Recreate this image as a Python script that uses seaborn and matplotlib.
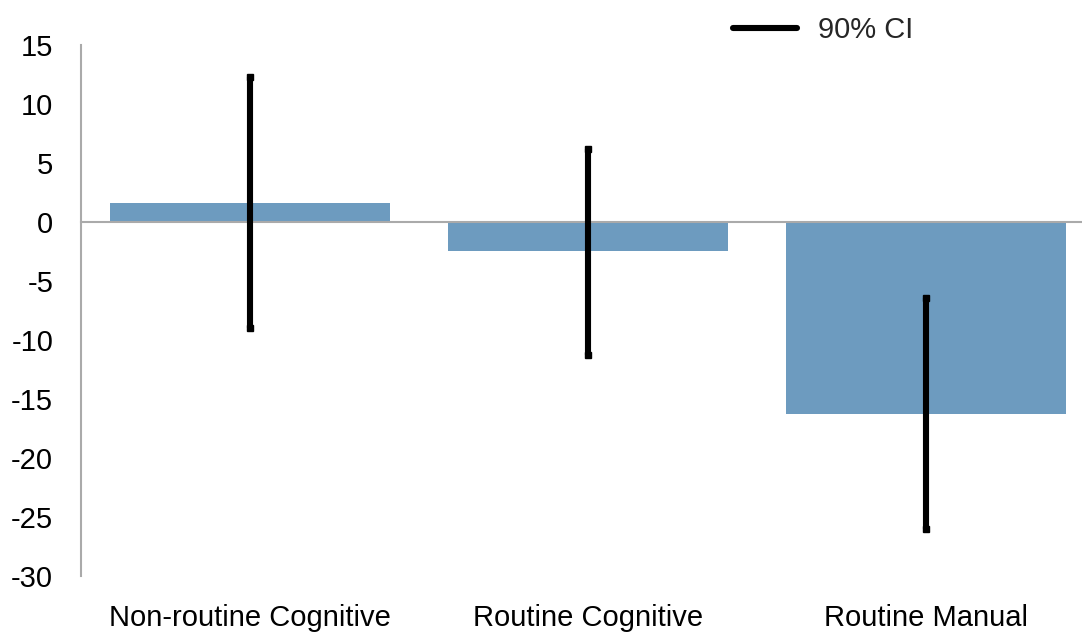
import numpy as np
import pandas as pd
import matplotlib
matplotlib.use("Agg")
import matplotlib.pyplot as plt
from matplotlib.lines import Line2D
import seaborn as sns

# --- data ---
categorias = ["Non-routine Cognitive", "Routine Cognitive", "Routine Manual"]
valores = [1.6, -2.5, -16.3]
ci_baixo = [-9.0, -11.3, -26.0]
ci_alto = [12.3, 6.2, -6.4]
y_ticks = [15, 10, 5, 0, -5, -10, -15, -20, -25, -30]

df = pd.DataFrame({"categoria": categorias, "valor": valores})

sns.set_style("white")
plt.rcParams["font.family"] = ["Liberation Sans Narrow", "Liberation Sans", "DejaVu Sans"]
plt.rcParams["axes.unicode_minus"] = False

cor_barra = "#6D9BBF"
cinza = "#AAAAAA"
tam_fonte = 21

fig = plt.figure(figsize=(10.82, 6.32), dpi=100)
ax = fig.add_axes([81 / 1082, 56 / 632, 1014 / 1082, 531 / 632])

sns.barplot(data=df, x="categoria", y="valor", color=cor_barra, saturation=1,
            width=0.83, ax=ax, zorder=1)
for p in ax.patches:
    p.set_edgecolor("none")

# intervalos de confianca (90%)
pos = np.arange(len(categorias))
ax.vlines(pos, ci_baixo, ci_alto, color="black", lw=4.4, zorder=4)
ax.plot(pos, ci_baixo, ls="none", marker="s", ms=4.5, color="black", zorder=4)
ax.plot(pos, ci_alto, ls="none", marker="s", ms=4.5, color="black", zorder=4)

ax.set_ylim(min(y_ticks), max(y_ticks))
ax.set_xlim(-0.5, len(categorias) - 0.5)
ax.set_yticks(y_ticks)
ax.set_xlabel("")
ax.set_ylabel("")

for s in ["top", "right"]:
    ax.spines[s].set_visible(False)
ax.spines["left"].set_color(cinza)
ax.spines["left"].set_linewidth(1.5)
ax.spines["bottom"].set_position(("data", 0))
ax.spines["bottom"].set_color(cinza)
ax.spines["bottom"].set_linewidth(1.5)
ax.spines["bottom"].set_zorder(3)

ax.tick_params(axis="y", direction="in", length=6.5, width=1.2, color=cinza,
               labelsize=tam_fonte, pad=20, labelcolor="black")
ax.set_xticks(pos + 0.5, minor=True)
ax.tick_params(axis="x", which="major", length=0, labelbottom=False)
ax.tick_params(axis="x", which="minor", direction="in", length=6.5, width=1.2, color=cinza)

# rotulos das categorias no fundo do grafico
sec = ax.secondary_xaxis(location=0)
sec.set_xticks(pos, labels=categorias)
sec.spines["bottom"].set_visible(False)
sec.tick_params(axis="x", length=0, labelsize=tam_fonte, pad=20, labelcolor="black")

leg_handle = Line2D([], [], color="black", lw=4.4)
fig.legend([leg_handle], ["90% CI"], loc="center left", frameon=False,
           bbox_to_anchor=(733 / 1082, 1 - 30 / 632), bbox_transform=fig.transFigure,
           fontsize=tam_fonte, handlelength=2.2, handletextpad=0.7,
           borderpad=0, borderaxespad=0)

fig.savefig("out.png", dpi=100)
